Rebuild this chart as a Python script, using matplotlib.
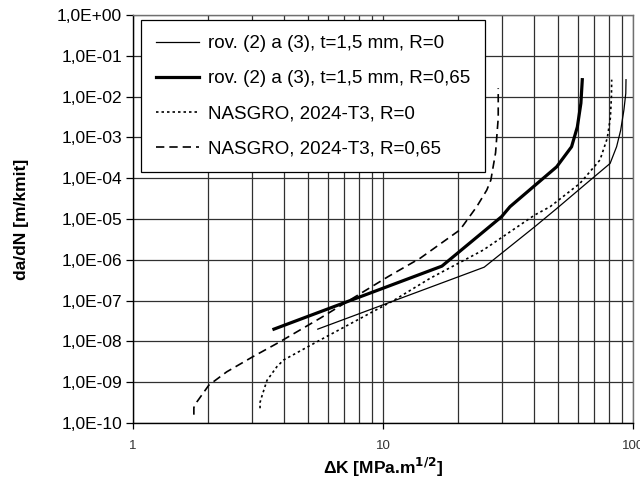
import numpy as np
import matplotlib.pyplot as plt
from matplotlib.ticker import FixedLocator, FuncFormatter, NullFormatter

plt.rcParams['font.family'] = ['Liberation Sans', 'DejaVu Sans']

# rov. (2) a (3), t=1,5 mm, R=0
rov_r0_dk = [5.48, 25.4, 40.5, 49.5, 65.0, 81.0, 86.0, 89.3, 92.0, 93.6, 93.8]
rov_r0_da = [2.0e-8, 6.6e-7, 6.5e-6, 1.8e-5, 7.4e-5, 2.3e-4, 5.9e-4, 1.5e-3, 4.7e-3, 1.2e-2, 2.6e-2]

# rov. (2) a (3), t=1,5 mm, R=0,65
rov_r065_dk = [3.66, 17.2, 29.8, 32.2, 49.5, 56.8, 59.9, 61.9, 62.7]
rov_r065_da = [2.0e-8, 7.0e-7, 1.14e-5, 2.0e-5, 1.9e-4, 5.9e-4, 1.8e-3, 6.9e-3, 2.6e-2]

# NASGRO, 2024-T3, R=0
nas_r0_dk = [3.22, 3.22, 3.27, 3.43, 3.76, 4.0, 5.6, 11.0, 15.4, 25.2, 40.5, 46.6,
             61.4, 73.8, 78.9, 81.2, 82.0, 82.2]
nas_r0_da = [2.3e-10, 3.2e-10, 4.4e-10, 1.1e-9, 2.4e-9, 3.5e-9, 1.08e-8, 1.0e-7, 3.5e-7,
             1.74e-6, 1.26e-5, 2.0e-5, 7.5e-5, 2.8e-4, 9.5e-4, 3.0e-3, 1.0e-2, 2.6e-2]

# NASGRO, 2024-T3, R=0,65
nas_r065_dk = [1.75, 1.75, 1.80, 2.01, 2.37, 3.01, 3.81, 5.6, 10.5, 14.1, 20.3, 23.7,
               26.0, 27.0, 28.2, 28.9, 28.9]
nas_r065_da = [1.6e-10, 2.4e-10, 3.3e-10, 8.5e-10, 1.8e-9, 4.2e-9, 9.3e-9, 3.7e-8, 3.9e-7,
               1.1e-6, 5.4e-6, 2.0e-5, 5.1e-5, 9.0e-5, 4.2e-4, 3.0e-3, 1.6e-2]

labels = ["rov. (2) a (3), t=1,5 mm, R=0",
          "rov. (2) a (3), t=1,5 mm, R=0,65",
          "NASGRO, 2024-T3, R=0",
          "NASGRO, 2024-T3, R=0,65"]

fig = plt.figure(figsize=(6.4, 4.84), dpi=100)
ax = fig.add_axes([0.208, 0.126, 0.781, 0.843])

ax.plot(rov_r0_dk, rov_r0_da, color='black', lw=0.9, label=labels[0])
ax.plot(rov_r065_dk, rov_r065_da, color='black', lw=2.3, label=labels[1])
ax.plot(nas_r0_dk, nas_r0_da, color='black', lw=1.2, ls=(0, (1.5, 1.8)), label=labels[2])
ax.plot(nas_r065_dk, nas_r065_da, color='black', lw=1.2, ls=(0, (5, 3)), label=labels[3])

ax.set_xscale('log')
ax.set_yscale('log')
ax.set_xlim(1, 100)
ax.set_ylim(1e-10, 1)

ax.xaxis.set_major_locator(FixedLocator([1, 10, 100]))
ax.xaxis.set_minor_locator(FixedLocator([m * d for d in (1, 10) for m in range(2, 10)]))
ax.xaxis.set_major_formatter(FuncFormatter(lambda v, p: "%d" % round(v)))
ax.xaxis.set_minor_formatter(NullFormatter())

ax.yaxis.set_major_locator(FixedLocator([10.0 ** e for e in range(-10, 1)]))
ax.yaxis.set_minor_locator(FixedLocator([]))


def sci_comma(v, p):
    e = int(round(np.log10(v)))
    return "1,0E%s%02d" % ('+' if e >= 0 else '-', abs(e))


ax.yaxis.set_major_formatter(FuncFormatter(sci_comma))

ax.grid(True, which='major', axis='both', color='#303030', lw=0.9)
ax.grid(True, which='minor', axis='x', color='#303030', lw=0.9)
ax.set_axisbelow(True)

for s in ax.spines.values():
    s.set_color('#707070')
    s.set_linewidth(1.0)
ax.spines['left'].set_color('black')
ax.spines['bottom'].set_color('black')

ax.tick_params(axis='y', which='major', length=5, width=0.9, labelsize=12.5, pad=3)
ax.tick_params(axis='x', which='major', length=4, width=0.9, labelsize=9.5, pad=8,
               labelcolor='#333333')
ax.tick_params(axis='x', which='minor', length=0)

ax.set_xlabel("ΔK [MPa.m$^{\\mathbf{1/2}}$]", fontsize=12.5, fontweight='bold', labelpad=3)
ax.set_ylabel("da/dN [m/kmit]", fontsize=12.5, fontweight='bold', labelpad=20)

leg = ax.legend(loc='upper left', bbox_to_anchor=(0.016, 0.987), borderaxespad=0,
                fontsize=13.5, handlelength=2.3, handletextpad=0.45, labelspacing=0.95,
                borderpad=0.8, fancybox=False, framealpha=1, edgecolor='black')
leg.get_frame().set_linewidth(0.9)

fig.savefig("out.png", dpi=100)
